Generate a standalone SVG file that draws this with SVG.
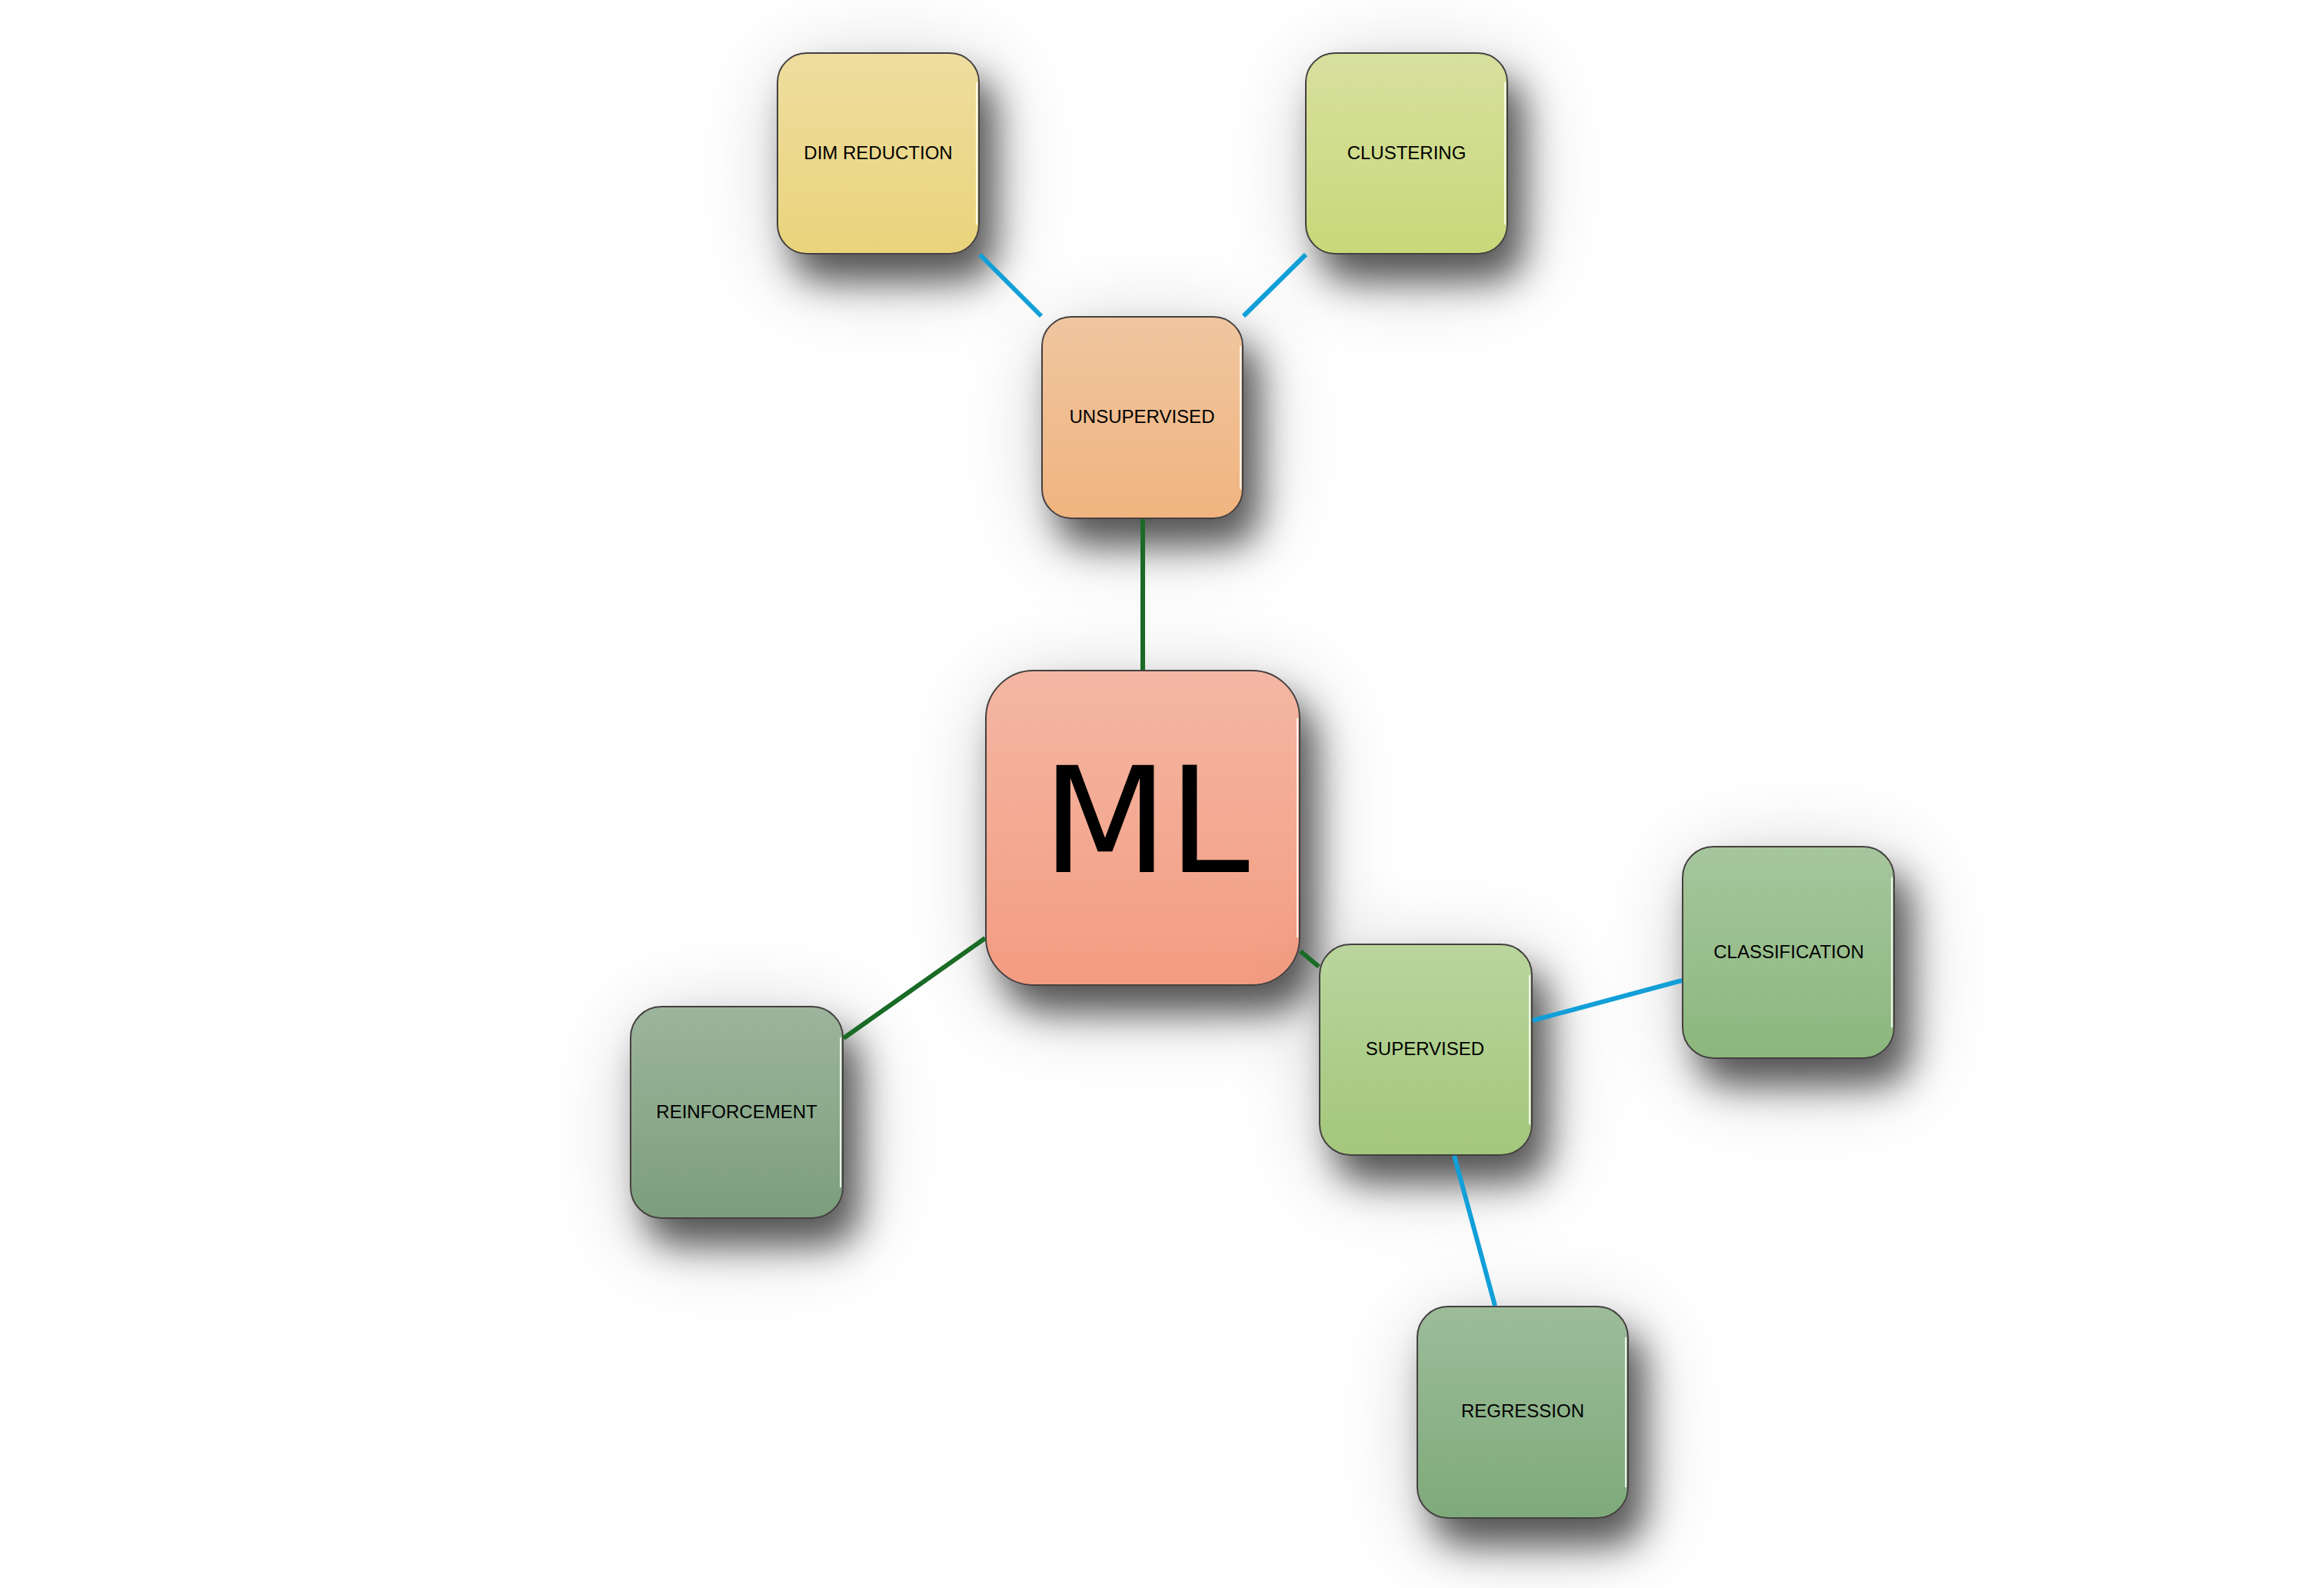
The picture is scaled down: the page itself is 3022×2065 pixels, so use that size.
<svg xmlns="http://www.w3.org/2000/svg" width="3022" height="2065" viewBox="0 0 3022 2065">
<style>
.box{stroke:#454040;stroke-width:2}
.lbl{font-family:"Liberation Sans",Arial,sans-serif;font-size:24px;fill:#000;text-anchor:middle}
.big{font-family:"DejaVu Sans",sans-serif;font-size:190px;fill:#000;text-anchor:middle}
.g{stroke:#1a6b26;stroke-width:6;fill:none}
.b{stroke:#129fd8;stroke-width:6;fill:none}
.hl{stroke:#ffffff;stroke-width:2;fill:none;opacity:0.85}
</style>
<defs>
<filter id="sh" x="-50%" y="-50%" width="220%" height="220%">
<feGaussianBlur in="SourceAlpha" stdDeviation="60" result="b1"/>
<feOffset in="b1" dx="12" dy="24" result="o1"/>
<feComponentTransfer in="o1" result="c1"><feFuncA type="linear" slope="0.22"/></feComponentTransfer>
<feGaussianBlur in="SourceAlpha" stdDeviation="24" result="b2"/>
<feOffset in="b2" dx="20" dy="34" result="o2"/>
<feComponentTransfer in="o2" result="c2"><feFuncA type="linear" slope="0.62"/></feComponentTransfer>
<feMerge><feMergeNode in="c1"/><feMergeNode in="c2"/><feMergeNode in="SourceGraphic"/></feMerge>
</filter>
<linearGradient id="gDim" x1="0" y1="0" x2="0" y2="1"><stop offset="0" stop-color="#eedd9f"/><stop offset="1" stop-color="#e9d47b"/></linearGradient>
<linearGradient id="gClu" x1="0" y1="0" x2="0" y2="1"><stop offset="0" stop-color="#d7e09e"/><stop offset="1" stop-color="#c8d879"/></linearGradient>
<linearGradient id="gUns" x1="0" y1="0" x2="0" y2="1"><stop offset="0" stop-color="#f0c6a0"/><stop offset="1" stop-color="#f0b47f"/></linearGradient>
<linearGradient id="gML" x1="0" y1="0" x2="0" y2="1"><stop offset="0" stop-color="#f4b7a4"/><stop offset="1" stop-color="#f39c81"/></linearGradient>
<linearGradient id="gSup" x1="0" y1="0" x2="0" y2="1"><stop offset="0" stop-color="#b9d59d"/><stop offset="1" stop-color="#a3c77b"/></linearGradient>
<linearGradient id="gCla" x1="0" y1="0" x2="0" y2="1"><stop offset="0" stop-color="#a6c69d"/><stop offset="1" stop-color="#8bb77d"/></linearGradient>
<linearGradient id="gRei" x1="0" y1="0" x2="0" y2="1"><stop offset="0" stop-color="#9cb59c"/><stop offset="1" stop-color="#7c9e7c"/></linearGradient>
<linearGradient id="gReg" x1="0" y1="0" x2="0" y2="1"><stop offset="0" stop-color="#9dbc9a"/><stop offset="1" stop-color="#7eaa7a"/></linearGradient>
</defs>
<rect width="3022" height="2065" fill="#ffffff"/>

<g id="node-dim-reduction">
<rect class="box" x="1011" y="69" width="262" height="261" rx="38" fill="url(#gDim)" filter="url(#sh)"/>
<line class="hl" x1="1270" y1="107" x2="1270" y2="292"/>
<text class="lbl" x="1142" y="207">DIM REDUCTION</text>
</g>
<g id="node-clustering">
<rect class="box" x="1698" y="69" width="262" height="261" rx="38" fill="url(#gClu)" filter="url(#sh)"/>
<line class="hl" x1="1957" y1="107" x2="1957" y2="292"/>
<text class="lbl" x="1829" y="207">CLUSTERING</text>
</g>
<g id="node-unsupervised">
<rect class="box" x="1355" y="412" width="261" height="262" rx="38" fill="url(#gUns)" filter="url(#sh)"/>
<line class="hl" x1="1613" y1="450" x2="1613" y2="636"/>
<text class="lbl" x="1485" y="550">UNSUPERVISED</text>
</g>
<g id="node-ml">
<rect class="box" x="1282" y="872" width="408" height="409" rx="62" fill="url(#gML)" filter="url(#sh)"/>
<line class="hl" x1="1687" y1="934" x2="1687" y2="1219"/>
<text class="big" x="1490" y="1134">ML</text>
</g>
<g id="node-supervised">
<rect class="box" x="1716" y="1228" width="276" height="274" rx="40" fill="url(#gSup)" filter="url(#sh)"/>
<line class="hl" x1="1989" y1="1268" x2="1989" y2="1462"/>
<text class="lbl" x="1853" y="1372">SUPERVISED</text>
</g>
<g id="node-classification">
<rect class="box" x="2188" y="1101" width="275" height="275" rx="40" fill="url(#gCla)" filter="url(#sh)"/>
<line class="hl" x1="2460" y1="1141" x2="2460" y2="1336"/>
<text class="lbl" x="2326" y="1246">CLASSIFICATION</text>
</g>
<g id="node-reinforcement">
<rect class="box" x="820" y="1309" width="276" height="275" rx="40" fill="url(#gRei)" filter="url(#sh)"/>
<line class="hl" x1="1093" y1="1349" x2="1093" y2="1544"/>
<text class="lbl" x="958" y="1454">REINFORCEMENT</text>
</g>
<g id="node-regression">
<rect class="box" x="1843" y="1699" width="274" height="275" rx="40" fill="url(#gReg)" filter="url(#sh)"/>
<line class="hl" x1="2114" y1="1739" x2="2114" y2="1934"/>
<text class="lbl" x="1980" y="1843">REGRESSION</text>
</g>

<g id="connectors">
<line class="b" x1="1274" y1="331" x2="1354" y2="411"/>
<line class="b" x1="1698" y1="331" x2="1617" y2="411"/>
<line class="g" x1="1486" y1="675" x2="1486" y2="871"/>
<line class="g" x1="1691" y1="1237" x2="1715" y2="1257"/>
<line class="g" x1="1281" y1="1220" x2="1097" y2="1350"/>
<line class="b" x1="1993" y1="1327" x2="2187" y2="1275"/>
<line class="b" x1="1891" y1="1503" x2="1944" y2="1698"/>
</g>
</svg>
